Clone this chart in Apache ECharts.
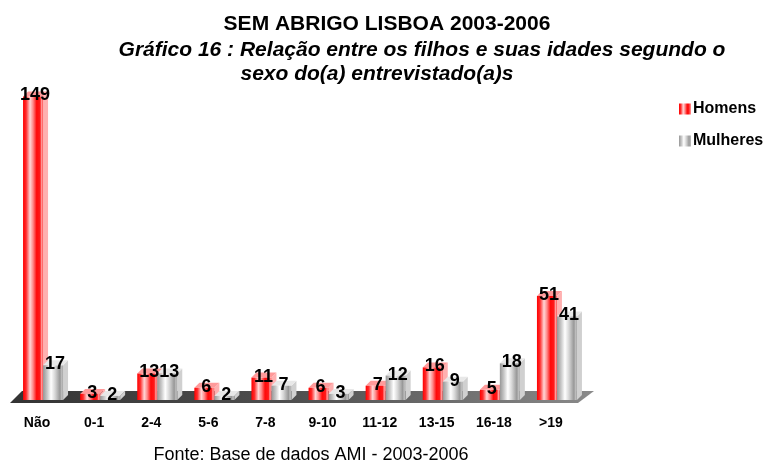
<!DOCTYPE html>
<html><head><meta charset="utf-8">
<script src="https://cdn.jsdelivr.net/npm/echarts@6/dist/echarts.min.js"></script>
<style>html,body{margin:0;padding:0;background:#fff}#c{width:770px;height:461px}</style>
</head><body><div id="c"></div>
<script>
const categories = ['Não','0-1','2-4','5-6','7-8','9-10','11-12','13-15','16-18','>19'];
const homens = [149,3,13,6,11,6,7,16,5,51];
const mulheres = [17,2,13,2,7,3,12,9,18,41];

const chart = echarts.init(document.getElementById('c'));
const FONT = 'Arial, "Liberation Sans", sans-serif';
const redGrad = new echarts.graphic.LinearGradient(0,0,1,0,[
  {offset:0,color:'#ff0000'},{offset:0.15,color:'#ff2a2a'},{offset:0.35,color:'#ffd6d6'},
  {offset:0.5,color:'#ff8a8a'},{offset:0.68,color:'#ff0a0a'},{offset:0.85,color:'#ff1a1a'},
  {offset:0.93,color:'#ffa0a0'},{offset:1,color:'#ff4a4a'}]);
const grayGrad = new echarts.graphic.LinearGradient(0,0,1,0,[
  {offset:0,color:'#969696'},{offset:0.2,color:'#c6c6c6'},{offset:0.4,color:'#ffffff'},
  {offset:0.6,color:'#d6d6d6'},{offset:0.85,color:'#979797'},{offset:0.93,color:'#bdbdbd'},{offset:1,color:'#a5a5a5'}]);
const W = 20, D = 5;
function makeRender(offset, grad, topCol, sideCol){
  return function(params, api){
    const idx = api.value(0), v = api.value(1);
    const base = api.coord([idx, 0]);
    const top = api.coord([idx, v]);
    const x0 = base[0] + offset, x1 = x0 + W, yb = base[1], yt = top[1];
    return {type:'group', children:[
      {type:'polygon', shape:{points:[[x1,yb],[x1+D,yb-D],[x1+D,yt-D],[x1,yt]]}, style:{fill:sideCol}},
      {type:'polygon', shape:{points:[[x0,yt],[x0+D,yt-D],[x1+D,yt-D],[x1,yt]]}, style:{fill:topCol}},
      {type:'rect', shape:{x:x0,y:yt,width:W,height:yb-yt}, style:{fill:grad}},
      {type:'text', z2:10, style:{text:String(v), x:(x0+x1)/2+2, y:yt+8, align:'center', verticalAlign:'bottom',
        font:'bold 18px ' + FONT, fill:'#000'}}
    ]};
  };
}
function toData(arr){ return arr.map((v,i)=>[i,v]); }
chart.setOption({
  animation:false,
  title:[
    {text:'SEM ABRIGO LISBOA 2003-2006', left:382, top:9, textAlign:'center',
     textStyle:{fontFamily:FONT, fontSize:21, fontWeight:'bold', color:'#000'}},
    {text:'Gráfico 16 : Relação entre os filhos e suas idades segundo o', left:417, top:35, textAlign:'center',
     textStyle:{fontFamily:FONT, fontSize:21, fontWeight:'bold', fontStyle:'italic', color:'#000'}},
    {text:'sexo do(a) entrevistado(a)s', left:372, top:59, textAlign:'center',
     textStyle:{fontFamily:FONT, fontSize:21, fontWeight:'bold', fontStyle:'italic', color:'#000'}},
    {text:'Fonte: Base de dados AMI - 2003-2006', left:306, top:441, textAlign:'center',
     textStyle:{fontFamily:FONT, fontSize:18, fontWeight:'normal', color:'#000'}}
  ],
  legend:{orient:'vertical', left:674, top:96, itemWidth:12, itemHeight:11, itemGap:16,
    data:[{name:'Homens', icon:'rect'},{name:'Mulheres', icon:'rect'}],
    textStyle:{fontFamily:FONT, fontSize:16, fontWeight:'bold', color:'#000', padding:[0,0,0,-3]}},
  grid:{left:8.5, right:190.5, top:70, bottom:61},
  xAxis:{type:'category', data:categories, axisLine:{show:false}, axisTick:{show:false},
    axisLabel:{margin:16, fontFamily:FONT, fontSize:14, fontWeight:'bold', color:'#000'}},
  yAxis:{type:'value', min:0, max:162, show:false, splitLine:{show:false}},
  graphic:[{type:'polygon', z:-1, shape:{points:[[10,403],[22,391],[594,391],[578,403]]},
    style:{fill:new echarts.graphic.LinearGradient(0,0,1,0,[{offset:0,color:'#333'},{offset:0.5,color:'#505050'},{offset:1,color:'#8a8a8a'}])}}],
  series:[
    {name:'Homens', type:'custom', data:toData(homens), itemStyle:{color:redGrad},
     renderItem:makeRender(-14, redGrad, '#ff9a9a', '#ffb0b0'), encode:{x:0,y:1}},
    {name:'Mulheres', type:'custom', data:toData(mulheres), itemStyle:{color:grayGrad},
     renderItem:makeRender(6, grayGrad, '#e8e8e8', '#d0d0d0'), encode:{x:0,y:1}}
  ]
});
</script></body></html>
